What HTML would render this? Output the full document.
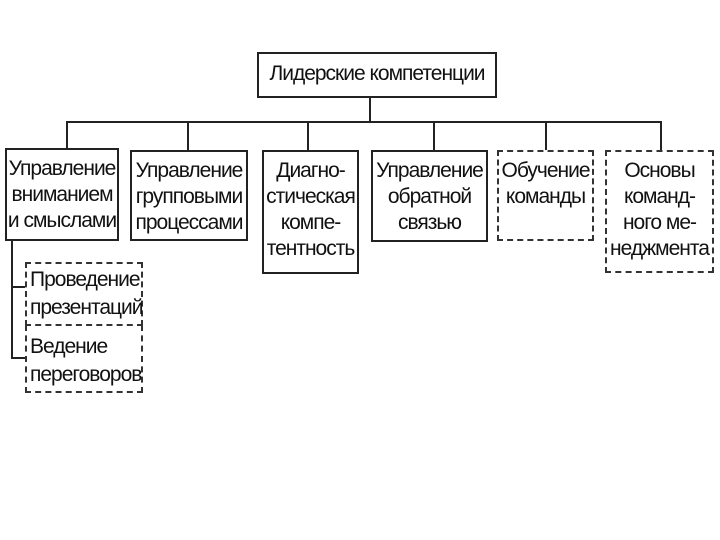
<!DOCTYPE html>
<html><head><meta charset="utf-8"><style>
body{margin:0;width:720px;height:540px;background:#fff;position:relative;overflow:hidden;font-family:"Liberation Sans",sans-serif;color:#111}
.b{position:absolute;box-sizing:border-box;border:2px solid #222;text-align:center;font-size:21px;line-height:26px;letter-spacing:-1px;padding-top:6px;white-space:nowrap}
.d{border:2px dashed #333}
.l{position:absolute;background:#222}
</style></head><body>
<div class="b" style="left:257px;top:52px;width:240px;height:46px;line-height:40px;padding-top:0">Лидерские компетенции</div>
<div class="l" style="left:369px;top:97px;width:2px;height:26px"></div>
<div class="l" style="left:66px;top:121px;width:596px;height:2px"></div>
<div class="l" style="left:66px;top:121px;width:2px;height:28px"></div>
<div class="l" style="left:187px;top:121px;width:2px;height:29px"></div>
<div class="l" style="left:307px;top:121px;width:2px;height:29px"></div>
<div class="l" style="left:433px;top:121px;width:2px;height:29px"></div>
<div class="l" style="left:545px;top:121px;width:2px;height:29px"></div>
<div class="l" style="left:660px;top:121px;width:2px;height:29px"></div>
<div class="b" style="left:5px;top:148px;width:114px;height:93px">Управление<br>вниманием<br>и смыслами</div>
<div class="b" style="left:130px;top:150px;width:118px;height:91px">Управление<br>групповыми<br>процессами</div>
<div class="b" style="left:262px;top:150px;width:97px;height:124px">Диагно-<br>стическая<br>компе-<br>тентность</div>
<div class="b" style="left:371px;top:150px;width:117px;height:92px">Управление<br>обратной<br>связью</div>
<div class="b d" style="left:497px;top:150px;width:97px;height:91px">Обучение<br>команды</div>
<div class="b d" style="left:605px;top:150px;width:109px;height:123px">Основы<br>команд-<br>ного ме-<br>неджмента</div>
<div class="l" style="left:11px;top:240px;width:2px;height:119px"></div>
<div class="l" style="left:11px;top:286px;width:14px;height:2px"></div>
<div class="l" style="left:11px;top:357px;width:14px;height:2px"></div>
<div class="b d" style="left:25px;top:262px;width:118px;height:64px;text-align:left;padding-left:3px;line-height:28px;padding-top:2px">Проведение<br>презентаций</div>
<div class="b d" style="left:25px;top:325px;width:118px;height:68px;text-align:left;padding-left:3px;line-height:28px;border-top:none;padding-top:8px">Ведение<br>переговоров</div>
</body></html>
